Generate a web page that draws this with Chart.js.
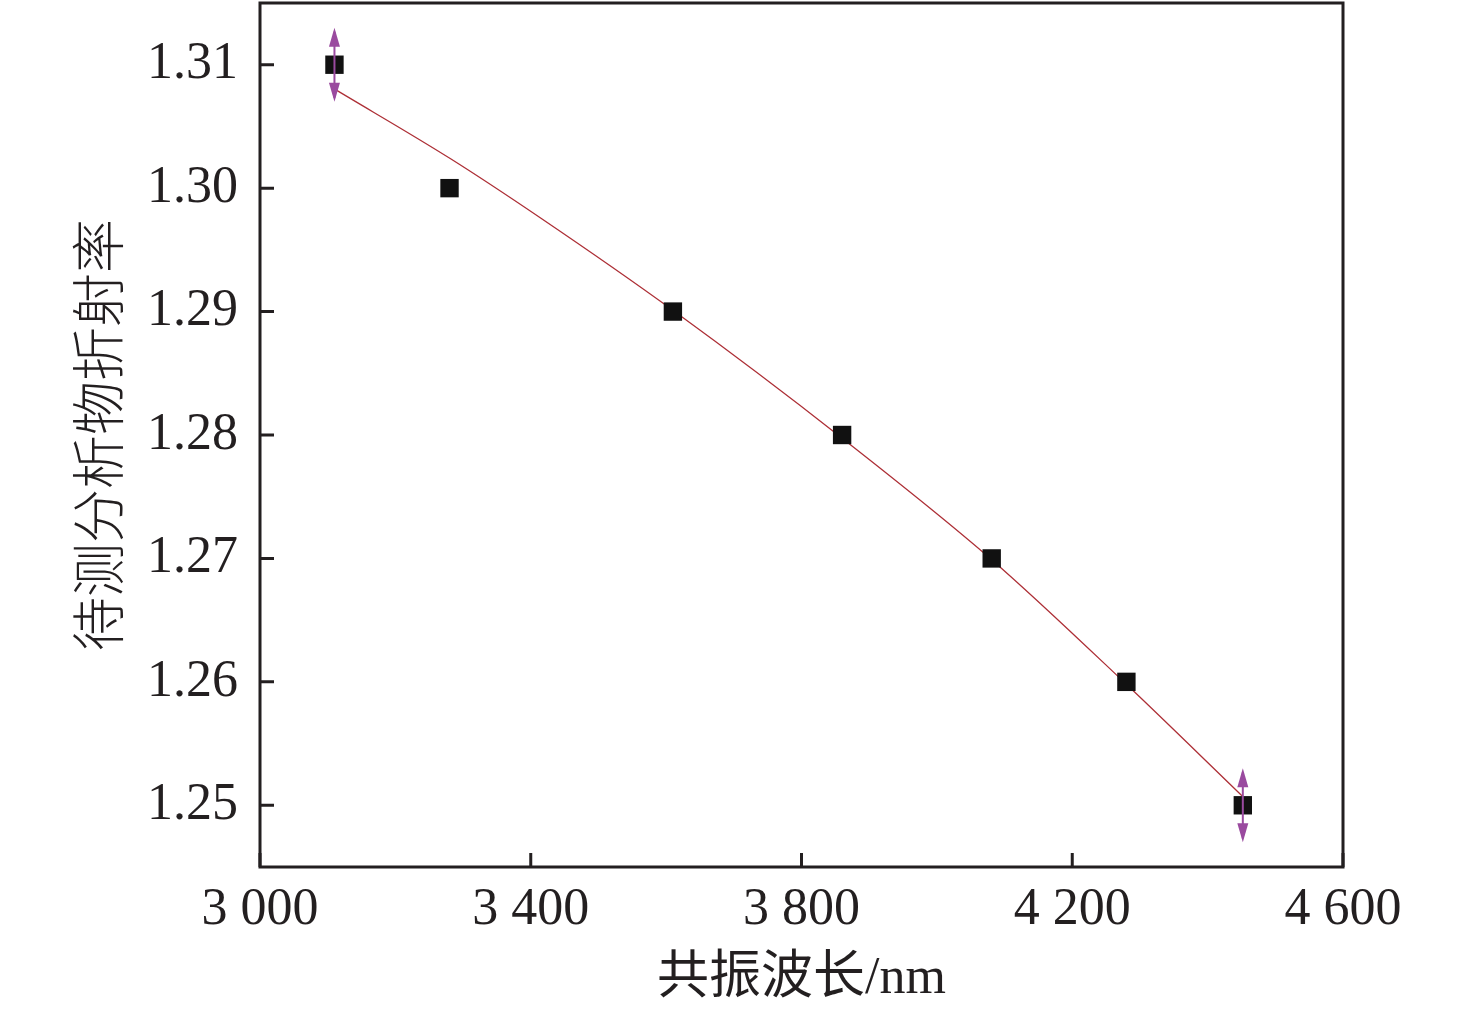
<!DOCTYPE html>
<html>
<head>
<meta charset="utf-8">
<script src="https://cdn.jsdelivr.net/npm/chart.js@4.4.1/dist/chart.umd.min.js"></script>
<style>
html,body{margin:0;padding:0;background:#fff;overflow:hidden;}
#wrap{width:1476px;height:1015px;position:relative;overflow:hidden;}
#c{position:absolute;left:0;top:-10px;}
</style>
</head>
<body>
<div id="wrap"><canvas id="c" width="1476" height="1025"></canvas></div>
<script>
// Measured data points
const xValues = [3110, 3280, 3610, 3860, 4081, 4280, 4452];
const yValues = [1.31, 1.30, 1.29, 1.28, 1.27, 1.26, 1.25];
const errValues = [0.003, null, null, null, null, null, 0.003];
// Fitted curve
const fitX = [3111, 3281, 3414, 3610, 3861, 4081, 4280, 4452];
const fitY = [1.3080, 1.3024, 1.2976, 1.2901, 1.2797, 1.2699, 1.2598, 1.2507];
// Axis ticks
const xTicks = [3000, 3400, 3800, 4200, 4600];
const xTickLabels = ['3 000', '3 400', '3 800', '4 200', '4 600'];
const yTicks = [1.25, 1.26, 1.27, 1.28, 1.29, 1.30, 1.31];
const yTickLabels = ['1.25', '1.26', '1.27', '1.28', '1.29', '1.30', '1.31'];
const xTitle = '共振波长/nm';
const yTitle = '待测分析物折射率';

const AXIS = '#231f20';
const PURPLE = '#9a4a9f';

const framePlugin = {
  id: 'frame',
  afterDatasetsDraw(chart) {
    const ctx = chart.ctx;
    const xs = chart.scales.x, ys = chart.scales.y;
    ctx.save();
    ctx.strokeStyle = PURPLE; ctx.fillStyle = PURPLE; ctx.lineWidth = 2;
    errValues.forEach((e, i) => {
      if (e == null) return;
      const px = xs.getPixelForValue(xValues[i]);
      const pt = ys.getPixelForValue(yValues[i] + e);
      const pb = ys.getPixelForValue(yValues[i] - e);
      ctx.beginPath(); ctx.moveTo(px, pt + 4); ctx.lineTo(px, pb - 4); ctx.stroke();
      [[pt, 1], [pb, -1]].forEach(([tip, d]) => {
        ctx.beginPath();
        ctx.moveTo(px, tip);
        ctx.lineTo(px - 5.5, tip + d * 19);
        ctx.lineTo(px + 5.5, tip + d * 19);
        ctx.closePath(); ctx.fill();
      });
    });
    ctx.restore();
  },
  afterDraw(chart) {
    const ctx = chart.ctx;
    const a = chart.chartArea;
    const xs = chart.scales.x, ys = chart.scales.y;
    ctx.save();
    ctx.strokeStyle = AXIS;
    ctx.lineWidth = 3;
    ctx.strokeRect(a.left, a.top, a.right - a.left, a.bottom - a.top);
    ctx.beginPath();
    ys.ticks.forEach(t => {
      const y = ys.getPixelForValue(t.value);
      ctx.moveTo(a.left, y); ctx.lineTo(a.left + 14, y);
    });
    xs.ticks.forEach(t => {
      const x = xs.getPixelForValue(t.value);
      ctx.moveTo(x, a.bottom); ctx.lineTo(x, a.bottom - 14);
    });
    ctx.stroke();
    ctx.restore();
  }
};

new Chart(document.getElementById('c'), {
  data: {
    datasets: [
      {
        type: 'line',
        data: fitX.map((x, i) => ({x, y: fitY[i]})),
        borderColor: '#ad2f36',
        borderWidth: 1.3,
        pointRadius: 0,
        cubicInterpolationMode: 'monotone',
        fill: false,
        order: 2
      },
      {
        type: 'scatter',
        data: xValues.map((x, i) => ({x, y: yValues[i]})),
        pointStyle: 'rect',
        pointRadius: 13,
        backgroundColor: '#111111',
        borderColor: '#111111',
        borderWidth: 0,
        order: 1
      }
    ]
  },
  options: {
    responsive: false,
    animation: false,
    devicePixelRatio: 1,
    layout: { padding: { left: 0, right: 133, top: 1.5, bottom: 0 } },
    plugins: { legend: { display: false }, tooltip: { enabled: false } },
    scales: {
      x: {
        type: 'linear',
        min: 3000, max: 4600,
        afterBuildTicks: s => { s.ticks = xTicks.map(v => ({value: v})); },
        afterFit: s => { s.height = 148; s.paddingLeft = 0; s.paddingRight = 0; },
        grid: { display: false, drawTicks: false },
        border: { display: false },
        ticks: {
          padding: 12,
          color: AXIS,
          font: { family: "'Liberation Serif', serif", size: 52 },
          maxRotation: 0,
          autoSkip: false,
          callback: (v) => { const i = xTicks.indexOf(v); return i >= 0 ? xTickLabels[i] : ''; }
        },
        title: {
          display: true,
          text: xTitle,
          color: AXIS,
          font: { family: "'Liberation Serif', 'Noto Sans CJK SC', serif", size: 52 },
          padding: { top: 0, bottom: 4 }
        }
      },
      y: {
        type: 'linear',
        min: 1.245, max: 1.315,
        afterBuildTicks: s => { s.ticks = yTicks.map(v => ({value: v})); },
        afterFit: s => { s.width = 260; s.paddingTop = 0; s.paddingBottom = 0; },
        grid: { display: false, drawTicks: false },
        border: { display: false },
        ticks: {
          padding: 22,
          color: AXIS,
          font: { family: "'Liberation Serif', serif", size: 52 },
          autoSkip: false,
          callback: (v) => { const i = yTicks.findIndex(t => Math.abs(t - v) < 1e-9); return i >= 0 ? yTickLabels[i] : ''; }
        },
        title: {
          display: true,
          text: yTitle,
          color: AXIS,
          font: { family: "'Noto Sans CJK SC', sans-serif", size: 54, weight: 300 },
          padding: { top: 66, bottom: 0 }
        }
      }
    }
  },
  plugins: [framePlugin]
});
</script>
</body>
</html>
